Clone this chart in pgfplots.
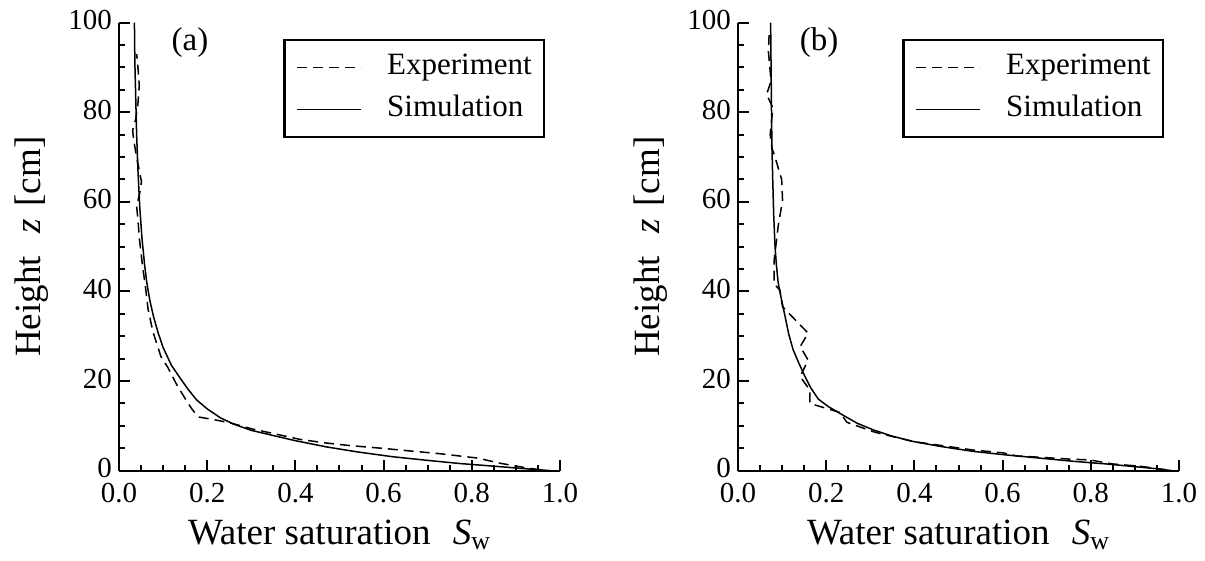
\documentclass[border=0pt]{standalone}
\usepackage{fontspec}
\setmainfont{Liberation Serif}
\usepackage{pgfplots}
\pgfplotsset{compat=1.18}

\newcommand{\tickfont}{\fontsize{14.5}{16}\selectfont}

\pgfplotsset{
  panel/.style={
    scale only axis, width=220.5pt, height=224pt,
    xmin=0, xmax=1, ymin=0, ymax=100,
    axis x line*=bottom, axis y line*=left,
    axis line style={line width=1.15pt},
    xtick={0,0.2,0.4,0.6,0.8,1}, minor x tick num=3,
    ytick={0,20,40,60,80,100}, minor y tick num=3,
    tick align=inside,
    major tick length=5.5pt, minor tick length=3pt,
    every tick/.style={black, line width=1pt},
    /pgf/number format/assume math mode=true,
    every tick label/.append style={font=\tickfont},
    xticklabel={\tickfont\pgfmathprintnumber[fixed,fixed zerofill,precision=1]{\tick}},
    yticklabel={\tickfont\pgfmathprintnumber{\tick}},
    xticklabel style={inner ysep=0pt, yshift=-6.3pt},
    yticklabel style={inner ysep=0pt, yshift=1.2pt},
    label style={font=\fontsize{18.5}{21}\selectfont},
    xlabel={Water saturation\hspace{0.6em}\textit{S}\textsubscript{w}},
    xlabel style={yshift=-4.8pt},
    ylabel={Height\hspace{0.6em}\textit{z}\hspace{0.35em}[cm]},
    ylabel style={yshift=3pt},
    legend style={at={(rel axis cs:0.966,0.964)}, anchor=north east,
      draw=black, line width=1.2pt, font=\fontsize{15.5}{18}\selectfont,
      inner xsep=6pt, inner ysep=6.25pt, row sep=6pt,
      nodes={inner xsep=0pt, inner ysep=0pt, text height=11pt, text depth=4pt},
      /tikz/every odd column/.append style={column sep=12.5pt}},
    legend cell align=left,
    legend image code/.code={\draw[line width=0.75pt,##1] (0pt,0pt) -- (32pt,0pt);},
  },
  expt/.style={black, line width=0.75pt, dash pattern=on 5pt off 3pt},
  simu/.style={black, line width=0.75pt},
}

\begin{document}
\begin{tikzpicture}
\useasboundingbox (-59.5pt,-45.15pt) rectangle (543pt,235.35pt);

% (a)
\begin{axis}[panel, at={(0pt,0pt)}]
\addplot[expt] coordinates {(0.955,0.2) (0.926,0.6) (0.89,1.2) (0.857,1.8) (0.815,2.8) (0.797,3.0) (0.727,3.8) (0.65,4.5) (0.597,5.0) (0.524,5.6) (0.468,6.2) (0.41,7.0) (0.35,8.3) (0.303,9.3) (0.251,10.7) (0.22,11.3) (0.18,12.0) (0.165,13.8) (0.153,15.6) (0.131,19.2) (0.111,23) (0.095,25.5) (0.077,31) (0.066,36) (0.060,41) (0.053,46) (0.046,52) (0.043,56) (0.040,59) (0.047,62) (0.051,64.5) (0.046,67) (0.040,70) (0.033,74) (0.031,76) (0.038,78.5) (0.043,82) (0.046,86) (0.043,90) (0.040,93)};
\addlegendentry{Experiment}
\addplot[simu] coordinates {(0.980,0) (0.90,0.6) (0.864,0.9) (0.773,1.6) (0.70,2.3) (0.622,3.1) (0.54,4.2) (0.471,5.3) (0.40,6.7) (0.365,7.5) (0.30,9.0) (0.26,10.4) (0.23,11.8) (0.20,13.8) (0.176,15.8) (0.158,18) (0.142,20.2) (0.119,23.5) (0.100,27.5) (0.089,30.7) (0.078,34.5) (0.070,38) (0.063,42) (0.058,46) (0.052,52) (0.047,59) (0.043,67) (0.040,75) (0.038,83) (0.036,91) (0.035,100)};
\addlegendentry{Simulation}
\node[font=\fontsize{16.5}{18}\selectfont] at (axis cs:0.161,95.5) {(a)};
\end{axis}

% (b)
\begin{axis}[panel, at={(309.5pt,0pt)}]
\addplot[expt] coordinates {(0.97,0.2) (0.949,0.5) (0.911,1.0) (0.850,1.5) (0.798,2.4) (0.75,2.6) (0.685,3.0) (0.632,3.3) (0.60,4.0) (0.534,4.6) (0.398,6.5) (0.322,8.3) (0.307,8.7) (0.247,10.8) (0.231,13) (0.201,13.9) (0.163,15) (0.163,18) (0.141,21) (0.159,24.7) (0.141,27.7) (0.159,30.7) (0.101,36.6) (0.095,40.3) (0.082,41.7) (0.082,47) (0.091,54.5) (0.101,60.4) (0.099,65) (0.084,70) (0.077,72) (0.073,75) (0.079,81) (0.065,84) (0.075,87) (0.069,93.5) (0.071,98.5)};
\addlegendentry{Experiment}
\addplot[simu] coordinates {(0.985,0) (0.949,0.45) (0.90,0.9) (0.836,1.5) (0.76,2.1) (0.685,2.8) (0.61,3.5) (0.534,4.3) (0.46,5.4) (0.398,6.5) (0.35,7.7) (0.307,9.1) (0.27,10.6) (0.231,12.8) (0.205,14.3) (0.182,16) (0.165,18.5) (0.152,21) (0.138,24) (0.125,27) (0.115,30.5) (0.107,34.3) (0.098,38.5) (0.091,42) (0.087,46) (0.084,50) (0.081,57) (0.079,64) (0.077,72) (0.076,80) (0.075,90) (0.074,100)};
\addlegendentry{Simulation}
\node[font=\fontsize{16.5}{18}\selectfont] at (axis cs:0.184,95.5) {(b)};
\end{axis}
\end{tikzpicture}
\end{document}
